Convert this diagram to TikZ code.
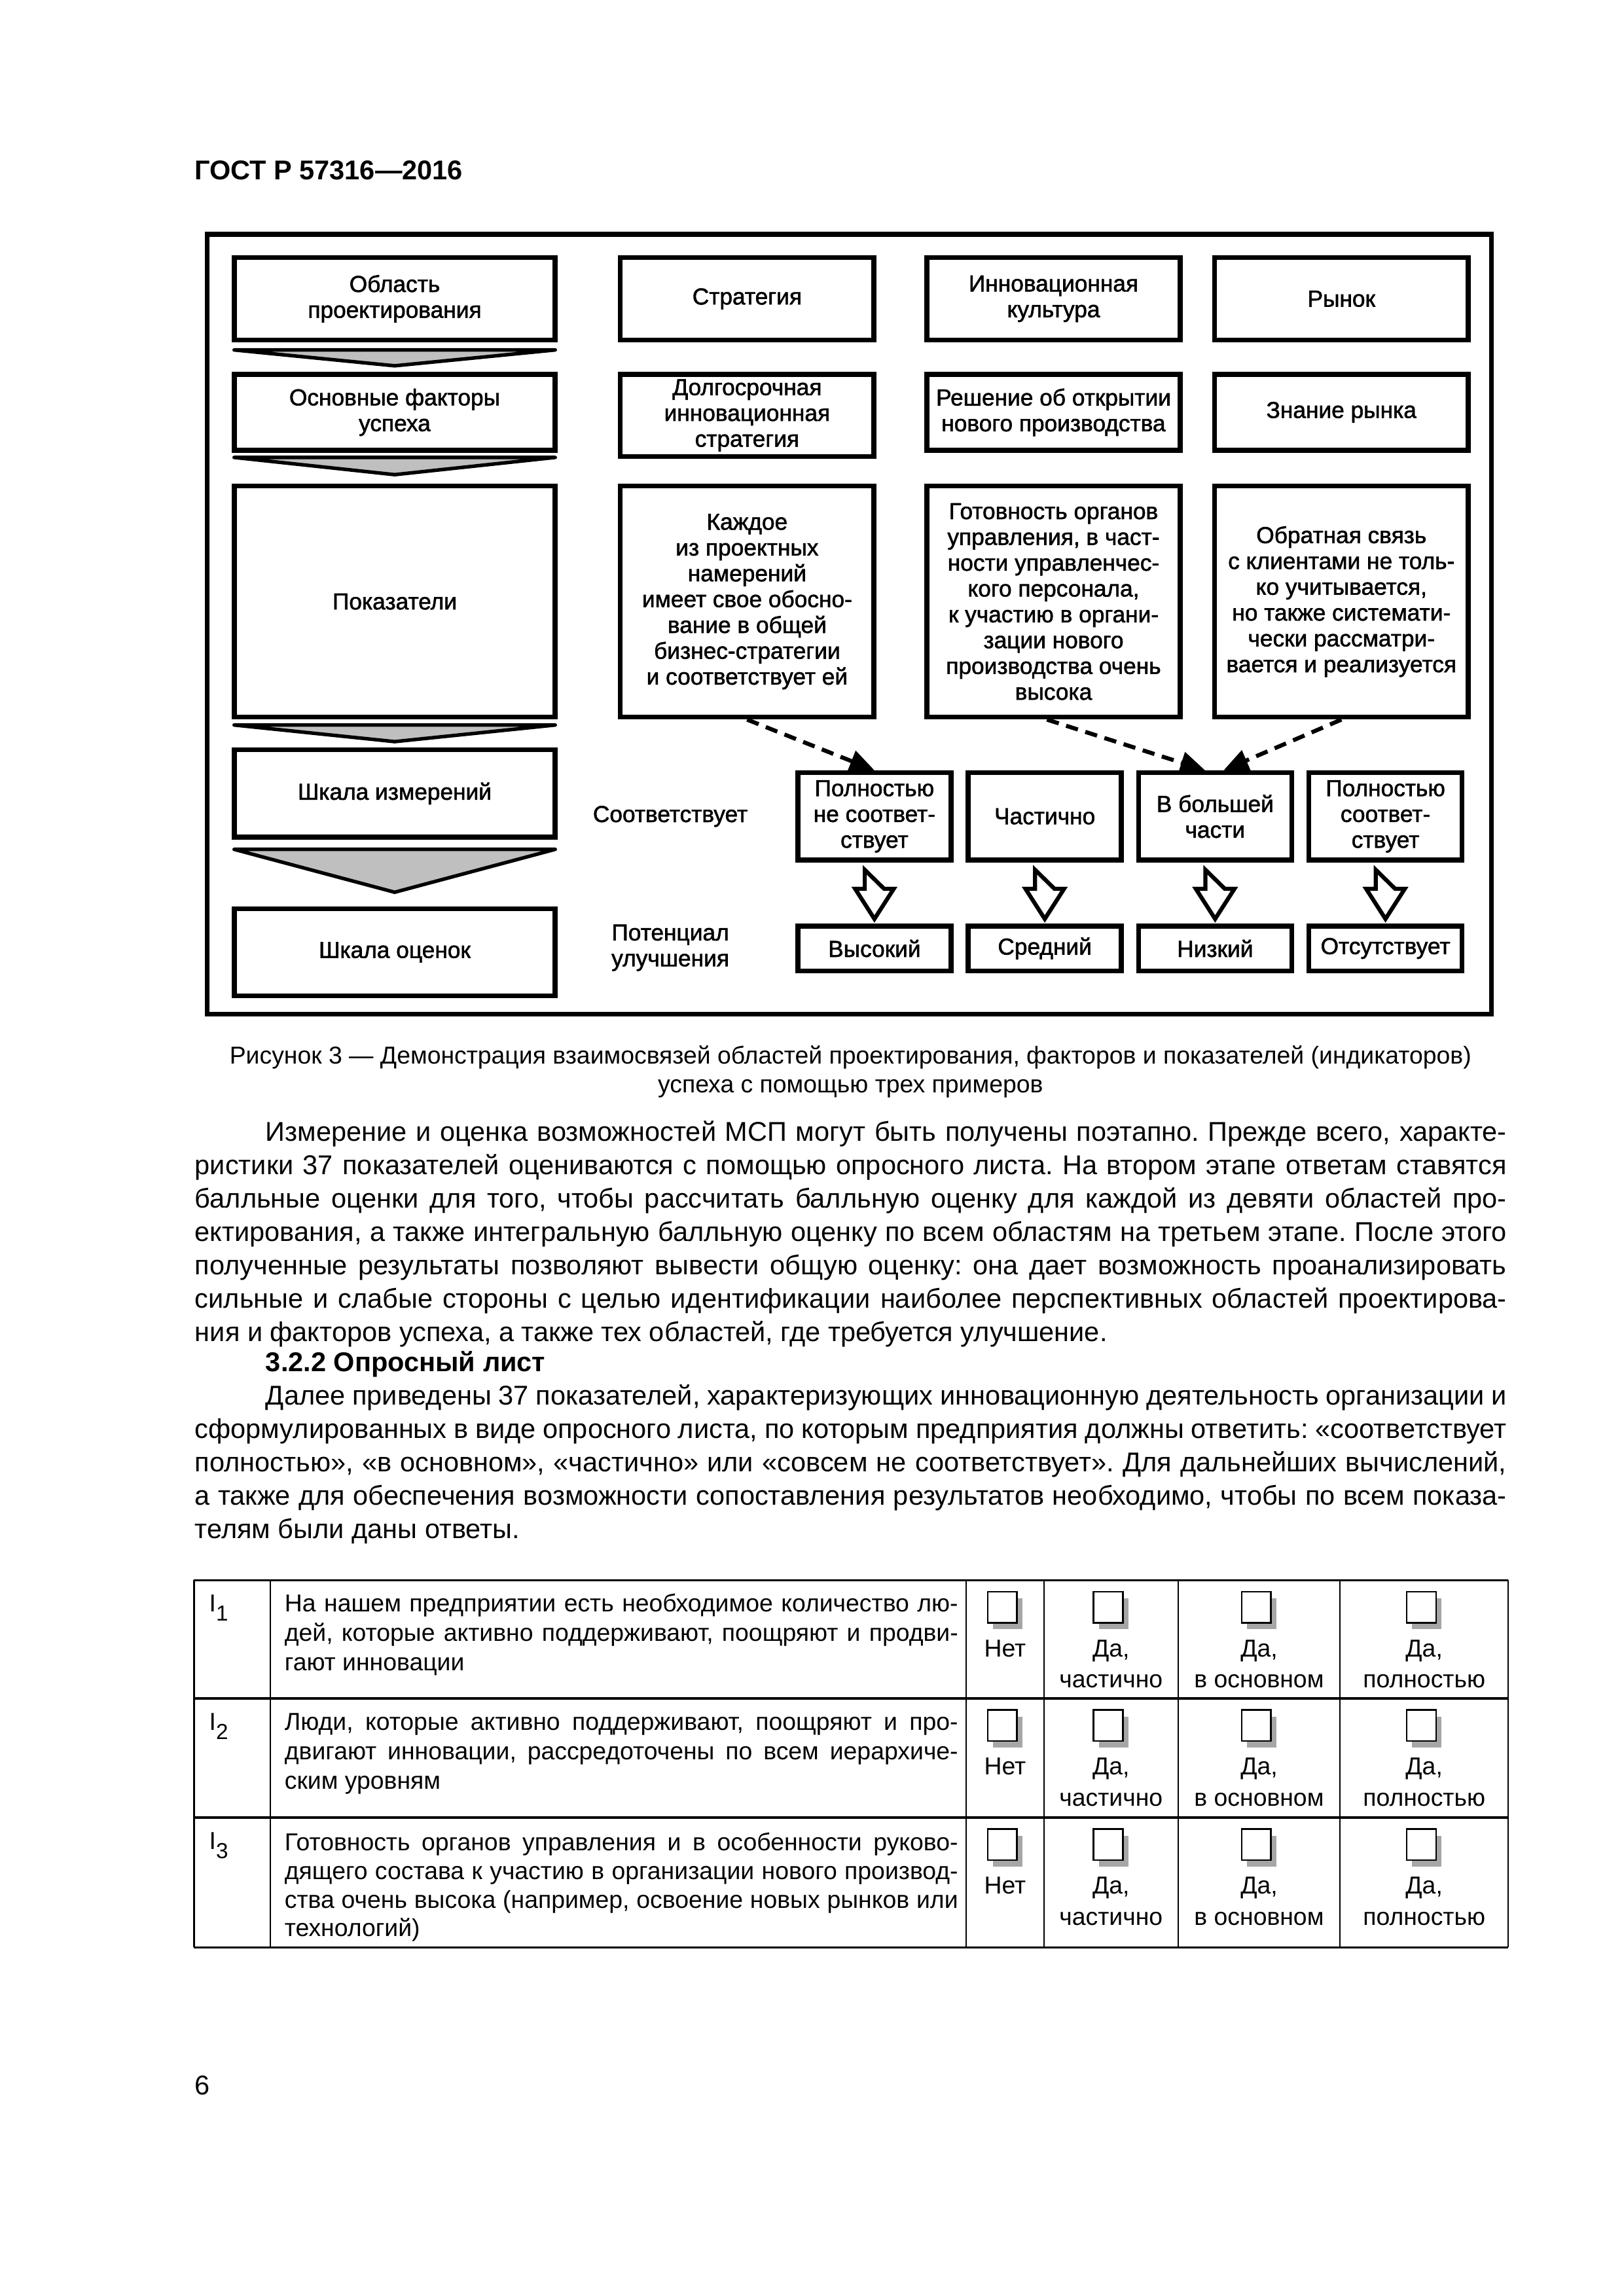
\documentclass[tikz,border=0pt]{standalone}
\usepackage{fontspec}
\setmainfont{Liberation Sans}
\newfontfamily\figfont{Liberation Sans}[FakeBold=1.6]
\usetikzlibrary{arrows.meta,positioning}
\frenchspacing

\begin{document}
\begin{tikzpicture}[x=1mm,y=-1mm,
  box/.style={draw,line width=1.8pt,align=center,inner sep=0pt,minimum width=32.8mm,font=\figfont\fontsize{8.5}{9.5}\selectfont},
  wide/.style={box,minimum width=41.5mm},
  small/.style={box,minimum width=19.8mm},
  side/.style={align=center,inner sep=0pt,font=\figfont\fontsize{8.5}{9.5}\selectfont},
  chev/.style={draw,line width=1.3pt,line join=round,fill=black!25},
  hollow/.style={draw,line width=1.5pt},
  arrow/.style={-{Triangle[length=3.2mm,width=2.8mm]},line width=1.5pt,dash pattern=on 1.6mm off 1mm},
  txt/.style={anchor=base west,inner sep=0pt,font=\fontsize{10}{12}\selectfont},
  cell/.style={anchor=base west,inner sep=0pt,font=\fontsize{9}{11}\selectfont},
  tick/.style={draw,line width=0.65pt,fill=white}
]
\useasboundingbox (0,0) rectangle (210,297);

\node[anchor=west,inner sep=0pt,font=\bfseries\fontsize{10}{12}\selectfont] (head) at (25.1,22.0) {ГОСТ Р 57316—2016};

\draw[line width=1.8pt] (26.8,30.3) rectangle (192.9,131.2);

\node[wide,minimum height=10.7mm] (area) at (51.05,38.65) {Область\\проектирования};
\node[box,minimum height=10.7mm,right=7.8mm of area] (strat) {Стратегия};
\node[box,minimum height=10.7mm,right=6.2mm of strat] (cult) {Инновационная\\культура};
\node[box,minimum height=10.7mm,right=3.8mm of cult] (market) {Рынок};

\node[wide,minimum height=9.8mm,below=3.8mm of area] (factor) {Основные факторы\\успеха};
\node[box,minimum height=10.6mm,below=3.8mm of strat] (fstrat) {Долгосрочная\\инновационная\\стратегия};
\node[box,minimum height=9.8mm,below=3.8mm of cult] (fcult) {Решение об открытии\\нового производства};
\node[box,minimum height=9.8mm,below=3.8mm of market] (fmarket) {Знание рынка};

\node[wide,minimum height=29.9mm,below=4mm of factor] (ind) {Показатели};
\node[box,minimum height=29.9mm,right=7.8mm of ind] (istrat) {Каждое\\из проектных\\намерений\\имеет свое обосно-\\вание в общей\\бизнес-стратегии\\и соответствует ей};
\node[box,minimum height=29.9mm,right=6.2mm of istrat] (icult) {Готовность органов\\управления, в част-\\ности управленчес-\\кого персонала,\\к участию в органи-\\зации нового\\производства очень\\высока};
\node[box,minimum height=29.9mm,right=3.8mm of icult] (imarket) {Обратная связь\\с клиентами не толь-\\ко учитывается,\\но также системати-\\чески рассматри-\\вается и реализуется};

\node[wide,minimum height=11.3mm,below=3.6mm of ind] (meas) {Шкала измерений};
\node[wide,minimum height=11.3mm,below=8.6mm of meas] (scale) {Шкала оценок};

\foreach \a/\t/\d in {area/0.95/3.0,factor/0.62/2.85,ind/0.7/2.85,meas/1.25/6.8}
  \draw[chev] ([xshift=0.3mm,yshift=-\t mm]\a.south west) -- ([xshift=-0.3mm,yshift=-\t mm]\a.south east) -- ([yshift=-\d mm]\a.south) -- cycle;

\node[side] (match) at (86.7,105.6) {Соответствует};
\node[side] (potential) at (86.7,122.6) {Потенциал\\улучшения};

\node[small,minimum height=11.3mm] (m1) at (113.1,105.6) {Полностью\\не соответ-\\ствует};
\node[small,minimum height=11.3mm,right=1.6mm of m1] (m2) {Частично};
\node[small,minimum height=11.3mm,right=1.6mm of m2] (m3) {В большей\\части};
\node[small,minimum height=11.3mm,right=1.6mm of m3] (m4) {Полностью\\соответ-\\ствует};

\node[small,minimum height=5.8mm,below=7.9mm of m1] (p1) {Высокий};
\node[small,minimum height=5.8mm,below=7.9mm of m2] (p2) {Средний};
\node[small,minimum height=5.8mm,below=7.9mm of m3] (p3) {Низкий};
\node[small,minimum height=5.8mm,below=7.9mm of m4] (p4) {Отсутствует};

\foreach \i in {1,...,4}
  \draw[hollow] ([xshift=-1.25mm,yshift=-0.95mm]m\i.south) -- ++(0,2.45) -- ++(-1.25,0) -- ++(2.5,3.9) -- ++(2.5,-3.9) -- ++(-1.25,0) -- cycle;

\draw[arrow] (istrat.south) -- (m1.north);
\draw[arrow] ([xshift=-0.85mm]icult.south) -- ([xshift=-1.3mm]m3.north);
\draw[arrow] (imarket.south) -- ([xshift=1.1mm]m3.north);

\node[align=center,inner sep=0pt,font=\fontsize{9}{10.6}\selectfont] (caption) at (110,138.65) {Рисунок 3 — Демонстрация взаимосвязей областей проектирования, факторов и показателей (индикаторов)\\успеха с помощью трех примеров};

\node[txt] (a0) at (34.3,147.6) {\makebox[160.5mm][s]{Измерение и оценка возможностей МСП могут быть получены поэтапно. Прежде всего, характе-}};
\foreach \t [count=\i] in {{ристики 37 показателей оцениваются с помощью опросного листа. На втором этапе ответам ставятся},
  {балльные оценки для того, чтобы рассчитать балльную оценку для каждой из девяти областей про-},
  {ектирования, а также интегральную балльную оценку по всем областям на третьем этапе. После этого},
  {полученные результаты позволяют вывести общую оценку: она дает возможность проанализировать},
  {сильные и слабые стороны с целью идентификации наиболее перспективных областей проектирова-}}
  \node[txt] (a\i) at (25.15,147.6+4.318*\i) {\makebox[169.65mm][s]{\t}};
\node[txt] (a6) at (25.15,173.5) {ния и факторов успеха, а также тех областей, где требуется улучшение.};

\node[txt,font=\bfseries\fontsize{10}{12}\selectfont] (sec) at (34.3,177.4) {3.2.2 Опросный лист};

\node[txt] (b0) at (34.3,181.75) {\makebox[160.5mm][s]{Далее приведены 37 показателей, характеризующих инновационную деятельность организации и}};
\foreach \t [count=\i] in {{сформулированных в виде опросного листа, по которым предприятия должны ответить: «соответствует},
  {полностью», «в основном», «частично» или «совсем не соответствует». Для дальнейших вычислений,},
  {а также для обеспечения возможности сопоставления результатов необходимо, чтобы по всем показа-}}
  \node[txt] (b\i) at (25.15,181.75+4.318*\i) {\makebox[169.65mm][s]{\t}};
\node[txt] (b4) at (25.15,199.0) {телям были даны ответы.};

\foreach \y in {204.4,219.7,235.1,251.9}
  \draw[line width=0.8pt] (25.1,\y) -- (195.1,\y);
\foreach \x in {25.1,35.0,125.0,135.0,152.4,173.3,195.1}
  \draw[line width=0.5pt] (\x,204.4) -- (\x,251.9);

\foreach \y/\n in {204.4/1,219.7/2,235.1/3}{
  \node[cell] (i\n) at (27.0,\y+4.12) {I\raisebox{-0.7ex}{\fontsize{8}{9}\selectfont\n}};
  \foreach \x/\a/\b in {130.0/Нет/{},143.7/{Да,}/частично,162.85/{Да,}/{в основном},184.2/{Да,}/полностью}{
    \fill[black!35] (\x-1.55,\y+2.35) rectangle ++(3.8,4);
    \draw[tick] (\x-2.25,\y+1.5) rectangle ++(3.8,4);
    \node[cell,anchor=base] at (\x,\y+9.9) {\a};
    \node[cell,anchor=base] at (\x,\y+13.9) {\b};
  }
}

\node[cell] (r11) at (36.75,208.5) {\makebox[87.1mm][s]{На нашем предприятии есть необходимое количество лю-}};
\node[cell] (r12) at (36.75,212.3) {\makebox[87.1mm][s]{дей, которые активно поддерживают, поощряют и продви-}};
\node[cell] (r13) at (36.75,216.1) {гают инновации};

\node[cell] (r21) at (36.75,223.8) {\makebox[87.1mm][s]{Люди, которые активно поддерживают, поощряют и про-}};
\node[cell] (r22) at (36.75,227.6) {\makebox[87.1mm][s]{двигают инновации, рассредоточены по всем иерархиче-}};
\node[cell] (r23) at (36.75,231.4) {ским уровням};

\node[cell] (r31) at (36.75,239.4) {\makebox[87.1mm][s]{Готовность органов управления и в особенности руково-}};
\node[cell] (r32) at (36.75,243.1) {\makebox[87.1mm][s]{дящего состава к участию в организации нового производ-}};
\node[cell] (r33) at (36.75,246.8) {\makebox[87.1mm][s]{ства очень высока (например, освоение новых рынков или}};
\node[cell] (r34) at (36.75,250.5) {технологий)};

\node[txt] (page) at (25.1,271.0) {6};
\end{tikzpicture}
\end{document}
